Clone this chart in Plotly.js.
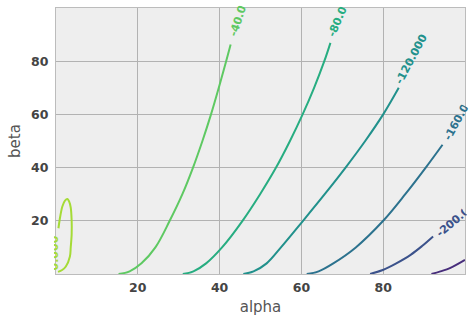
<!DOCTYPE html>
<html><head><meta charset="utf-8">
<script src="https://cdn.plot.ly/plotly-3.0.1.min.js"></script>
<style>html,body{margin:0;padding:0;background:#fff}#chart{width:474px;height:324px}</style>
</head><body><div id="chart"></div>
<script>
// Contour levels and their colours (viridis)
const levels = [0, -40, -80, -120, -160, -200, -240];
const levelColors = ['#a5db36', '#5ec962', '#27ad81', '#21918c', '#2c728e', '#3b528b', '#472d7b'];

// Contour paths (alpha, beta)
const alpha_0 = [0.6, 0.9, 1.55, 2.2, 2.78, 3.2, 3.6, 3.83, 3.83, 3.6, 3.4, 2.4, 1.5, 0.5];
const beta_0  = [17.2, 20.4, 25.4, 27.6, 28.2, 27.3, 25.0, 20.0, 15.0, 10.0, 6.6, 2.8, 1.5, 0.8];

const alpha_m40 = [15.3, 18.0, 20.9, 24.3, 27.8, 30.9, 33.5, 35.8, 37.9, 39.8, 41.6, 42.7];
const beta_m40  = [0, 1, 4, 10, 20, 30, 40, 50, 60, 70, 80, 86.3];

const alpha_m80 = [31.0, 33.6, 36.7, 40.6, 45.6, 49.9, 53.8, 57.2, 60.3, 63.1, 65.6, 67.1];
const beta_m80  = [0, 1, 4, 10, 20, 30, 40, 50, 60, 70, 80, 86.9];

const alpha_m120 = [45.8, 48.3, 51.5, 55.0, 60.4, 65.7, 70.8, 75.6, 80.0, 83.8];
const beta_m120  = [0, 1, 4, 10, 20, 30, 40, 50, 60, 70];

const alpha_m160 = [61.3, 64.2, 67.8, 73.3, 80.0, 85.4, 90.4, 94.5];
const beta_m160  = [0, 1, 4, 10, 20, 30, 40, 48.6];

const alpha_m200 = [76.8, 79.9, 83.2, 86.7, 89.5, 92.2];
const beta_m200  = [0, 1.5, 4.0, 7.2, 10.5, 14.1];

const alpha_m240 = [91.8, 94.0, 96.3, 100.0];
const beta_m240  = [0, 1.0, 2.2, 5.3];

const paths = [
  [alpha_0, beta_0], [alpha_m40, beta_m40], [alpha_m80, beta_m80],
  [alpha_m120, beta_m120], [alpha_m160, beta_m160], [alpha_m200, beta_m200],
  [alpha_m240, beta_m240]
];

// Tick labels
const xTicks = [20, 40, 60, 80];
const yTicks = [20, 40, 60, 80];

// Inline contour labels
const labelText  = ['0.000', '-40.000', '-80.000', '-120.000', '-160.000', '-200.000'];
const labelLevel = [0, 1, 2, 3, 4, 5];
const labelAlpha = [0.3, 44.5, 68.9, 86.8, 97.7, 96.7];
const labelBeta  = [7.8, 94.8, 94.8, 80.7, 56.7, 18.9];
const labelStyle = [
  {angle: -90, width: null, height: 7, valign: 'bottom'},
  {angle: -71.6, width: 31, height: null},
  {angle: -66.6, width: 31, height: null},
  {angle: -62, width: null, height: null},
  {angle: -61, width: 38, height: null},
  {angle: -40, width: 35, height: null}
];

const traces = paths.map((p, i) => ({
  type: 'scatter', mode: 'lines', x: p[0], y: p[1],
  line: {color: levelColors[i], width: 2, shape: 'spline', smoothing: 1.0},
  hoverinfo: 'skip', showlegend: false, cliponaxis: true
}));

const annotations = labelText.map((t, i) => {
  const s = labelStyle[i];
  const a = {
    text: t, x: labelAlpha[i], y: labelBeta[i], xref: 'x', yref: 'y',
    showarrow: false, textangle: s.angle, align: 'left',
    font: {family: 'DejaVu Sans', size: 11, color: levelColors[labelLevel[i]], weight: 'bold'},
    borderpad: 0
  };
  if (s.width) a.width = s.width;
  if (s.height) a.height = s.height;
  if (s.valign) a.valign = s.valign;
  return a;
});

const axisCommon = {
  showgrid: true, gridcolor: '#b2b2b2', gridwidth: 1,
  zeroline: false, showline: true, linecolor: '#bcbcbc', linewidth: 1, mirror: true,
  ticks: '', tickfont: {family: 'DejaVu Sans', size: 12.5, color: '#444444', weight: 'bold'}
};
const titleFont = {family: 'DejaVu Sans', size: 15, color: '#555555'};

const layout = {
  width: 474, height: 324,
  margin: {l: 56, r: 9, t: 8, b: 50},
  paper_bgcolor: '#ffffff', plot_bgcolor: '#eeeeee',
  xaxis: Object.assign({}, axisCommon, {
    range: [0, 100], tickvals: xTicks, ticktext: xTicks.map(String),
    ticklabelstandoff: 2,
    title: {text: 'alpha', standoff: 7, font: titleFont}
  }),
  yaxis: Object.assign({}, axisCommon, {
    range: [0, 100], tickvals: yTicks, ticktext: yTicks.map(String),
    ticklabelstandoff: 4,
    title: {text: 'beta', standoff: 6, font: titleFont}
  }),
  annotations: annotations
};

Plotly.newPlot('chart', traces, layout, {displayModeBar: false, staticPlot: true});
</script>
</body></html>
